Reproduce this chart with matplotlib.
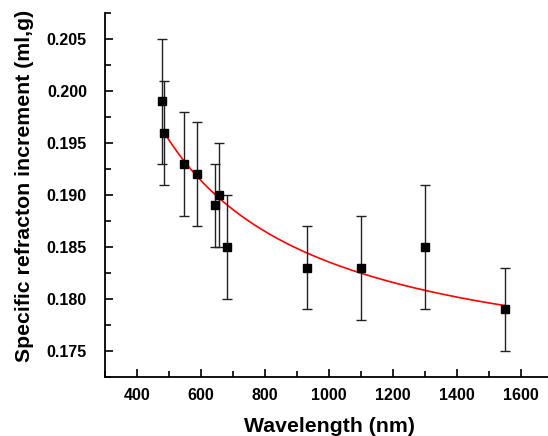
import numpy as np
import matplotlib
matplotlib.use('Agg')
import matplotlib.pyplot as plt
from matplotlib.ticker import MultipleLocator

plt.rcParams['font.family'] = ['Liberation Sans', 'DejaVu Sans']
plt.rcParams['font.weight'] = 'bold'

# datos
wavelength = [479, 485, 546, 589, 645, 655, 680, 930, 1100, 1300, 1550]
dn_dc = [0.199, 0.196, 0.193, 0.192, 0.189, 0.190, 0.185, 0.183, 0.183, 0.185, 0.179]
err = [0.006, 0.005, 0.005, 0.005, 0.004, 0.005, 0.005, 0.004, 0.005, 0.006, 0.004]

# curva de ajuste
fit_x = [485, 520, 560, 600, 654, 700, 760, 830, 930, 1000, 1100, 1200, 1300, 1400, 1550]
fit_y = [0.1960, 0.1943, 0.1928, 0.1915, 0.1898, 0.1886, 0.1873, 0.1859, 0.1843, 0.1836, 0.1825,
         0.1816, 0.1808, 0.1802, 0.1794]

fig = plt.figure(figsize=(5.48, 4.36), dpi=100)
ax = fig.add_axes([105 / 548, 59 / 436, 448 / 548, 364 / 436])

# suavizar la curva sobre los puntos leidos
xs = np.linspace(fit_x[0], fit_x[-1], 300)
coef = np.polyfit(1.0 / np.array(fit_x), fit_y, 2)
ax.plot(xs, np.polyval(coef, 1.0 / xs), color='red', lw=1.2, zorder=2)

ax.errorbar(wavelength, dn_dc, yerr=err, fmt='s', color='black', ms=5.5,
            ecolor='#222222', elinewidth=1.0, capsize=3.5, capthick=1.0, zorder=3)

ax.set_xlim(300, 1700)
ax.set_ylim(0.1725, 0.2075)
ax.xaxis.set_major_locator(MultipleLocator(200))
ax.xaxis.set_minor_locator(MultipleLocator(100))
ax.yaxis.set_major_locator(MultipleLocator(0.005))
ax.yaxis.set_minor_locator(MultipleLocator(0.0025))
ax.yaxis.set_major_formatter(matplotlib.ticker.FormatStrFormatter('%.3f'))

for s in ['top', 'right']:
    ax.spines[s].set_visible(False)
for s in ['left', 'bottom']:
    ax.spines[s].set_linewidth(1.3)
ax.tick_params(which='both', direction='in', width=1.2, labelsize=11.5)
ax.tick_params(axis='y', pad=13)
ax.tick_params(axis='x', pad=8)
ax.tick_params(which='major', length=6)
ax.tick_params(which='minor', length=4)

ax.set_xlabel('Wavelength (nm)', fontsize=15.3, fontweight='bold', labelpad=10)
ax.set_ylabel('Specific refracton increment (ml,g)', fontsize=15.3, fontweight='bold', labelpad=9)
ax.yaxis.label.set_y(0.525)

fig.savefig('out.png', dpi=100)
